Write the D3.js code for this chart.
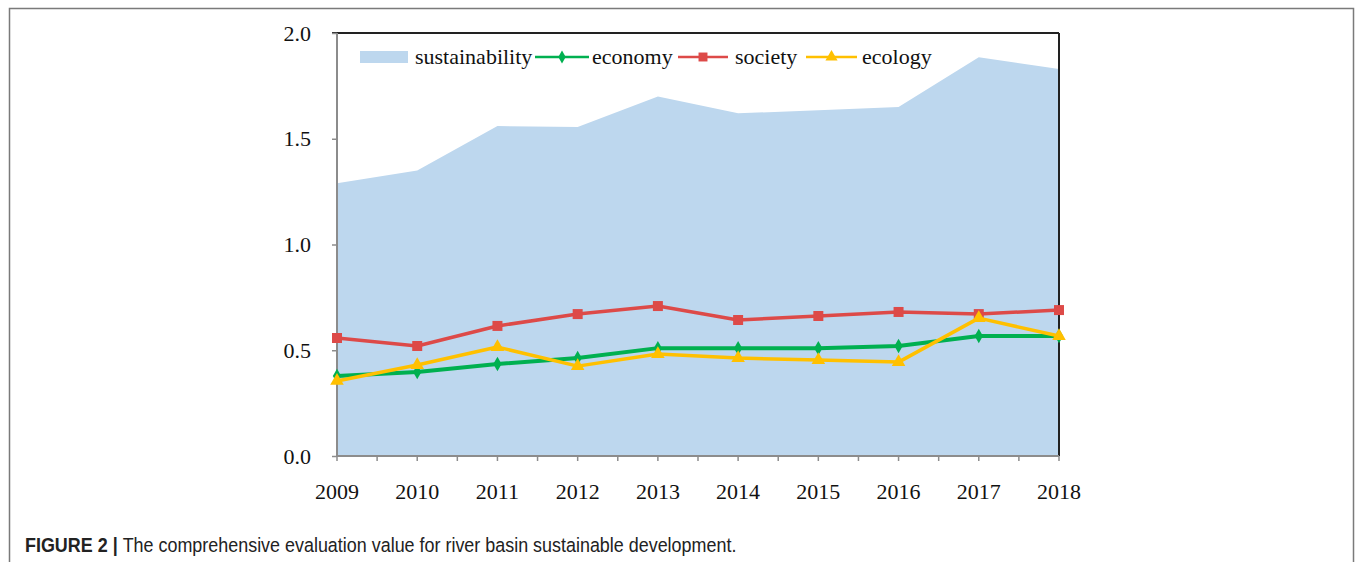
<!DOCTYPE html>
<html>
<head>
<meta charset="utf-8">
<script src="https://cdn.jsdelivr.net/npm/d3@7"></script>
<style>
  body { margin: 0; background: #fff; }
  svg text { font-family: "Liberation Serif", "Times New Roman", serif; }
</style>
</head>
<body>
<div id="chart"></div>
<script>
// chart data
var years = ["2009", "2010", "2011", "2012", "2013", "2014", "2015", "2016", "2017", "2018"];
var sustainability = [1.29, 1.35, 1.56, 1.555, 1.70, 1.62, 1.635, 1.65, 1.885, 1.83];
var economy = [0.378, 0.397, 0.435, 0.463, 0.51, 0.51, 0.51, 0.52, 0.567, 0.567];
var society = [0.558, 0.52, 0.615, 0.671, 0.709, 0.643, 0.662, 0.681, 0.671, 0.69];
var ecology = [0.355, 0.43, 0.515, 0.425, 0.482, 0.463, 0.454, 0.444, 0.652, 0.567];
var yTicks = [0, 0.5, 1.0, 1.5, 2.0];

var svgWidth = 1357;
var svgHeight = 562;

var margin = { top: 33, left: 337, right: 298, bottom: 106 };
var width = svgWidth - margin.left - margin.right;
var height = svgHeight - margin.top - margin.bottom;

var svg = d3.select("#chart").append("svg")
  .attr("width", svgWidth)
  .attr("height", svgHeight);

// outer figure frame
svg.append("rect")
  .attr("x", 9.5).attr("y", 8.5)
  .attr("width", 1344).attr("height", 600)
  .attr("fill", "none")
  .attr("stroke", "#7a7a7a")
  .attr("stroke-width", 1.5);

var chartGroup = svg.append("g")
  .attr("transform", `translate(${margin.left}, ${margin.top})`);

var xScale = d3.scalePoint().domain(years).range([0, width]);
var yScale = d3.scaleLinear().domain([0, 2]).range([height, 0]);

// sustainability area
var area = d3.area()
  .x((d, i) => xScale(years[i]))
  .y0(height)
  .y1(d => yScale(d));

chartGroup.append("path")
  .datum(sustainability)
  .attr("d", area)
  .attr("fill", "#bdd7ee");

// frame lines: top and right dark
chartGroup.append("line")
  .attr("x1", -5).attr("x2", width).attr("y1", 0).attr("y2", 0)
  .attr("stroke", "#222").attr("stroke-width", 2);
chartGroup.append("line")
  .attr("x1", width).attr("x2", width).attr("y1", 0).attr("y2", height)
  .attr("stroke", "#222").attr("stroke-width", 2);

// y axis
var leftAxis = d3.axisLeft(yScale)
  .tickValues(yTicks)
  .tickFormat(d3.format(".1f"))
  .tickSize(5)
  .tickPadding(21);
var yAxis = chartGroup.append("g").call(leftAxis);
yAxis.select(".domain").attr("stroke", "#8c8c8c").attr("stroke-width", 2)
  .attr("d", `M0,0V${height}`);
yAxis.selectAll(".tick line").attr("stroke", "#8c8c8c").attr("stroke-width", 1.5);
yAxis.selectAll("text")
  .attr("font-family", "Liberation Serif, Times New Roman, serif")
  .attr("font-size", 22)
  .attr("fill", "#111");

// x axis: ticks at categories and half-steps
var step = xScale.step();
var tickPos = d3.range(0, years.length * 2 - 1).map(i => i * step / 2);
var xAxisG = chartGroup.append("g")
  .attr("transform", `translate(0, ${height})`);
xAxisG.append("line")
  .attr("x1", 0).attr("x2", width).attr("y1", 0).attr("y2", 0)
  .attr("stroke", "#8c8c8c").attr("stroke-width", 2);
xAxisG.selectAll(".xtick")
  .data(tickPos)
  .enter()
  .append("line")
  .attr("x1", d => d).attr("x2", d => d)
  .attr("y1", 0).attr("y2", 5)
  .attr("stroke", "#8c8c8c").attr("stroke-width", 1.5);
xAxisG.selectAll(".xlabel")
  .data(years)
  .enter()
  .append("text")
  .attr("x", d => xScale(d))
  .attr("y", 43)
  .attr("text-anchor", "middle")
  .attr("font-size", 22)
  .attr("fill", "#111")
  .text(d => d);

// series lines
var line = d3.line()
  .x((d, i) => xScale(years[i]))
  .y(d => yScale(d));

var seriesList = [
  { name: "economy", values: economy, color: "#00b050", width: 4, marker: d3.symbolDiamond, size: 60 },
  { name: "society", values: society, color: "#dd4a48", width: 3.5, marker: d3.symbolSquare, size: 100 },
  { name: "ecology", values: ecology, color: "#ffc000", width: 3.5, marker: d3.symbolTriangle, size: 80 }
];

seriesList.forEach(function(s) {
  chartGroup.append("path")
    .datum(s.values)
    .attr("d", line)
    .attr("fill", "none")
    .attr("stroke", s.color)
    .attr("stroke-width", s.width)
    .attr("stroke-linejoin", "round");
  chartGroup.selectAll(".m-" + s.name)
    .data(s.values)
    .enter()
    .append("path")
    .attr("d", d3.symbol().type(s.marker).size(s.size))
    .attr("transform", (d, i) => `translate(${xScale(years[i])}, ${yScale(d)})`)
    .attr("fill", s.color);
});

// legend
var legend = svg.append("g");
legend.append("rect")
  .attr("x", 360).attr("y", 51)
  .attr("width", 48).attr("height", 12)
  .attr("fill", "#bdd7ee");
legend.append("text")
  .attr("x", 415).attr("y", 64)
  .attr("font-size", 22).attr("fill", "#111")
  .text("sustainability");

var legendItems = [
  { s: seriesList[0], x1: 535, x2: 589, tx: 592 },
  { s: seriesList[1], x1: 678, x2: 728, tx: 735 },
  { s: seriesList[2], x1: 806, x2: 857, tx: 862 }
];
legendItems.forEach(function(it) {
  legend.append("line")
    .attr("x1", it.x1).attr("x2", it.x2)
    .attr("y1", 57).attr("y2", 57)
    .attr("stroke", it.s.color)
    .attr("stroke-width", 2.5);
  legend.append("path")
    .attr("d", d3.symbol().type(it.s.marker).size(it.s.size * 0.8))
    .attr("transform", `translate(${(it.x1 + it.x2) / 2}, 57)`)
    .attr("fill", it.s.color);
  legend.append("text")
    .attr("x", it.tx).attr("y", 64)
    .attr("font-size", 22).attr("fill", "#111")
    .text(it.s.name);
});

// caption (slightly condensed, like the original typeface)
var caption = svg.append("text")
  .attr("transform", "translate(25, 552) scale(0.92, 1)")
  .attr("font-size", 19.5)
  .attr("fill", "#222")
  .style("font-family", "Liberation Sans, Arial, sans-serif");
caption.append("tspan")
  .attr("font-weight", "bold")
  .text("FIGURE 2 | ");
caption.append("tspan")
  .text("The comprehensive evaluation value for river basin sustainable development.");
</script>
</body>
</html>
